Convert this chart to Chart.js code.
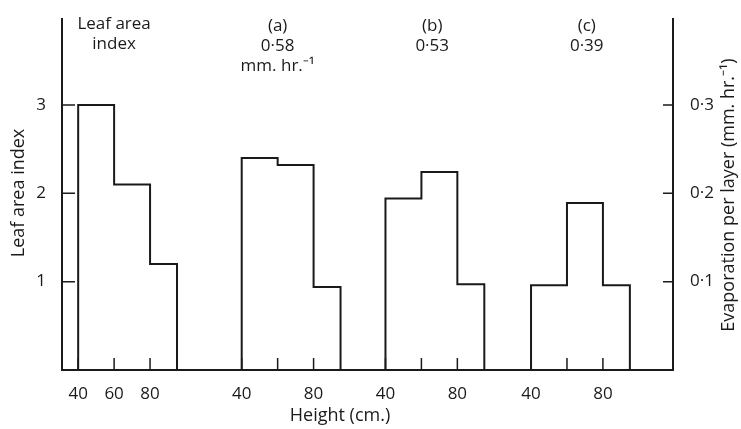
<!DOCTYPE html>
<html lang="en">
  <head>
    <meta charset="UTF-8" />
    <title>Leaf area index and evaporation per layer</title>
    <script src="https://cdn.jsdelivr.net/npm/chart.js"></script>
    <style>
      html, body { margin: 0; padding: 0; background: #fff; }
      #wrap { width: 741px; height: 429px; position: relative; }
    </style>
  </head>
  <body>
    <div id="wrap"><canvas id="layerChart"></canvas></div>
    <script>
      // layer boundaries (cm) and values
      const layerEdges = [40, 60, 80, 95];
      const leafAreaIndex = [3.0, 2.1, 1.2];
      const evapA = [0.240, 0.232, 0.094];
      const evapB = [0.194, 0.224, 0.097];
      const evapC = [0.096, 0.189, 0.096];
      const groupNames = ["", "(a)", "(b)", "(c)"];
      const groupTotals = ["", "0·58", "0·53", "0·39"];
      const heightTicks = [40, 60, 80];
      const leftTicks = [1, 2, 3];
      const rightTicks = [0.1, 0.2, 0.3];
      const rightTickLabels = ["0·1", "0·2", "0·3"];

      // where each block sits along the shared x axis
      const groupOffsets = [0, 91, 171, 252];
      const labelCentres = [60, 151, 237, 323];
      const ink = "#1a1a1a";
      const font = "Open Sans";

      function steps(values, off) {
        const pts = [{ x: off + layerEdges[0], y: 0 }];
        values.forEach((v, i) => pts.push({ x: off + layerEdges[i], y: v }));
        pts.push({ x: off + layerEdges[layerEdges.length - 1], y: 0 });
        return pts;
      }

      function stepSet(label, values, off, axis) {
        return {
          label: label,
          data: steps(values, off),
          yAxisID: axis,
          stepped: "before",
          borderColor: ink,
          borderWidth: 2,
          pointRadius: 0,
          fill: false,
          clip: false,
        };
      }

      // inward tick marks, as in the printed figure
      const innerTicks = {
        id: "innerTicks",
        afterDraw(chart) {
          const { ctx, chartArea: a, scales } = chart;
          ctx.save();
          ctx.strokeStyle = ink;
          ctx.lineWidth = 1.5;
          ctx.beginPath();
          scales.x.ticks.forEach((t) => {
            const px = scales.x.getPixelForValue(t.value);
            ctx.moveTo(px, a.bottom);
            ctx.lineTo(px, a.bottom - 12);
          });
          scales.y.ticks.forEach((t) => {
            const py = scales.y.getPixelForValue(t.value);
            ctx.moveTo(a.left, py);
            ctx.lineTo(a.left + 13, py);
          });
          scales.y2.ticks.forEach((t) => {
            const py = scales.y2.getPixelForValue(t.value);
            ctx.moveTo(a.right, py);
            ctx.lineTo(a.right - 10, py);
          });
          ctx.stroke();
          ctx.restore();
        },
      };

      // block headings and axis titles
      const texts = {
        id: "texts",
        afterDraw(chart) {
          const { ctx, scales } = chart;
          ctx.save();
          ctx.fillStyle = ink;
          ctx.textAlign = "center";
          ctx.textBaseline = "middle";
          ctx.font = "17px '" + font + "'";
          const x0 = scales.x.getPixelForValue(labelCentres[0]);
          ctx.fillText("Leaf area", x0, 24);
          ctx.fillText("index", x0, 44);
          for (let g = 1; g < groupNames.length; g++) {
            const px = scales.x.getPixelForValue(labelCentres[g]);
            ctx.fillText(groupNames[g], px, 26);
            ctx.fillText(groupTotals[g], px, 46);
          }
          ctx.fillText("mm. hr.⁻¹", scales.x.getPixelForValue(labelCentres[1]), 66);

          ctx.font = "18px '" + font + "'";
          ctx.fillText("Height (cm.)", 340, 416);

          ctx.translate(19, 193);
          ctx.rotate(-Math.PI / 2);
          ctx.fillText("Leaf area index", 0, 0);
          ctx.restore();

          ctx.save();
          ctx.fillStyle = ink;
          ctx.textAlign = "center";
          ctx.textBaseline = "middle";
          ctx.font = "18px '" + font + "'";
          ctx.translate(729, 195);
          ctx.rotate(-Math.PI / 2);
          ctx.fillText("Evaporation per layer (mm. hr.⁻¹)", 0, 0);
          ctx.restore();
        },
      };

      const ctx = document.getElementById("layerChart").getContext("2d");
      const layerChart = new Chart(ctx, {
        type: "line",
        data: {
          datasets: [
            stepSet("Leaf area index", leafAreaIndex, groupOffsets[0], "y"),
            stepSet("(a)", evapA, groupOffsets[1], "y2"),
            stepSet("(b)", evapB, groupOffsets[2], "y2"),
            stepSet("(c)", evapC, groupOffsets[3], "y2"),
          ],
        },
        options: {
          responsive: true,
          maintainAspectRatio: false,
          animation: false,
          layout: { padding: { top: 13, left: 0, right: 0, bottom: 0 } },
          plugins: {
            legend: { display: false },
            tooltip: { enabled: false },
          },
          scales: {
            x: {
              type: "linear",
              min: 31,
              max: 371,
              grid: { display: false },
              border: { display: true, color: ink, width: 2 },
              afterBuildTicks(scale) {
                const t = [];
                groupOffsets.forEach((off) =>
                  heightTicks.forEach((h) => t.push({ value: off + h }))
                );
                scale.ticks = t;
              },
              afterFit(scale) {
                scale.height = 59;
              },
              ticks: {
                autoSkip: false,
                maxRotation: 0,
                padding: 6,
                color: ink,
                font: { family: font, size: 17 },
                callback(value, i) {
                  const g = Math.floor(i / heightTicks.length);
                  const h = heightTicks[i % heightTicks.length];
                  return g === 0 || h !== 60 ? String(h) : "";
                },
              },
            },
            y: {
              position: "left",
              min: 0,
              max: 3.97,
              grid: { display: false },
              border: { display: true, color: ink, width: 2 },
              afterBuildTicks(scale) {
                scale.ticks = leftTicks.map((v) => ({ value: v }));
              },
              afterFit(scale) {
                scale.width = 62;
              },
              ticks: {
                padding: 8,
                color: ink,
                font: { family: font, size: 17 },
                callback: (v) => String(v),
              },
            },
            y2: {
              position: "right",
              min: 0,
              max: 0.397,
              grid: { display: false },
              border: { display: true, color: ink, width: 2 },
              afterBuildTicks(scale) {
                scale.ticks = rightTicks.map((v) => ({ value: v }));
              },
              afterFit(scale) {
                scale.width = 68;
              },
              ticks: {
                padding: 9,
                color: ink,
                font: { family: font, size: 17 },
                callback(value, i) {
                  return rightTickLabels[i];
                },
              },
            },
          },
        },
        plugins: [innerTicks, texts],
      });
    </script>
  </body>
</html>
